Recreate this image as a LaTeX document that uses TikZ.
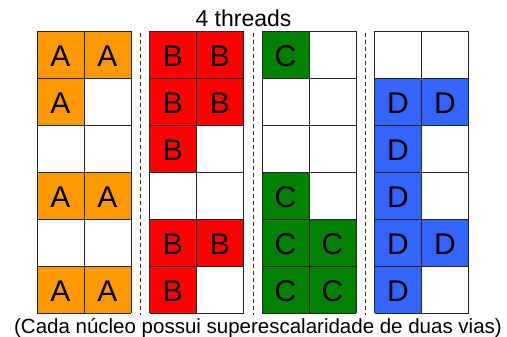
\documentclass[tikz,border=0pt]{standalone}
\usepackage{fontspec}
\setmainfont{Liberation Sans}
\definecolor{threadA}{HTML}{FF9900}
\definecolor{threadB}{HTML}{FF0000}
\definecolor{threadC}{HTML}{008000}
\definecolor{threadD}{HTML}{3366FF}
\tikzset{
	gridline/.style={draw=black!85, line width=0.9pt},
	sepline/.style={draw=black!80, line width=0.8pt, dash pattern=on 4pt off 3pt},
	letter/.style={anchor=base, inner sep=0pt, font=\fontsize{30}{30}\selectfont}
}
\begin{document}
\begin{tikzpicture}[x=1pt,y=-1pt]
	\useasboundingbox (0,0) rectangle (507,337);
	\node [anchor=base, inner sep=0pt, font=\fontsize{23}{23}\selectfont] (title) at (243.5,27) {4 threads};

	% filled slots: group/column/row/thread
	\foreach \g/\c/\r/\t in {0/0/0/A, 0/1/0/A, 0/0/1/A, 0/0/3/A, 0/1/3/A, 0/0/5/A, 0/1/5/A,
		1/0/0/B, 1/1/0/B, 1/0/1/B, 1/1/1/B, 1/0/2/B, 1/0/4/B, 1/1/4/B, 1/0/5/B,
		2/0/0/C, 2/0/3/C, 2/0/4/C, 2/1/4/C, 2/0/5/C, 2/1/5/C,
		3/0/1/D, 3/1/1/D, 3/0/2/D, 3/0/3/D, 3/0/4/D, 3/1/4/D, 3/0/5/D} {
		\fill [thread\t] ({37+112.5*\g+47*\c},{31+47*\r}) rectangle ++(47,47);
		\node [letter] (slot\g\c\r) at ({60.5+112.5*\g+47*\c},{66.5+47*\r}) {\t};
	}

	% grids of the four cores
	\foreach \g in {0,1,2,3} {
		\foreach \r in {0,...,6} {
			\draw [gridline] ({37+112.5*\g},{31+47*\r}) -- ++(94,0);
		}
		\foreach \c in {0,1,2} {
			\draw [gridline] ({37+112.5*\g+47*\c},31) -- ++(0,282);
		}
	}

	% separators
	\foreach \k in {0,1,2} {
		\draw [sepline] ({140.5+112.5*\k},33) -- ++(0,282);
	}

	\node [anchor=base, inner sep=0pt, font=\fontsize{20.5}{20.5}\selectfont] (caption) at (258,333) {(Cada núcleo possui superescalaridade de duas vias)};
\end{tikzpicture}
\end{document}
